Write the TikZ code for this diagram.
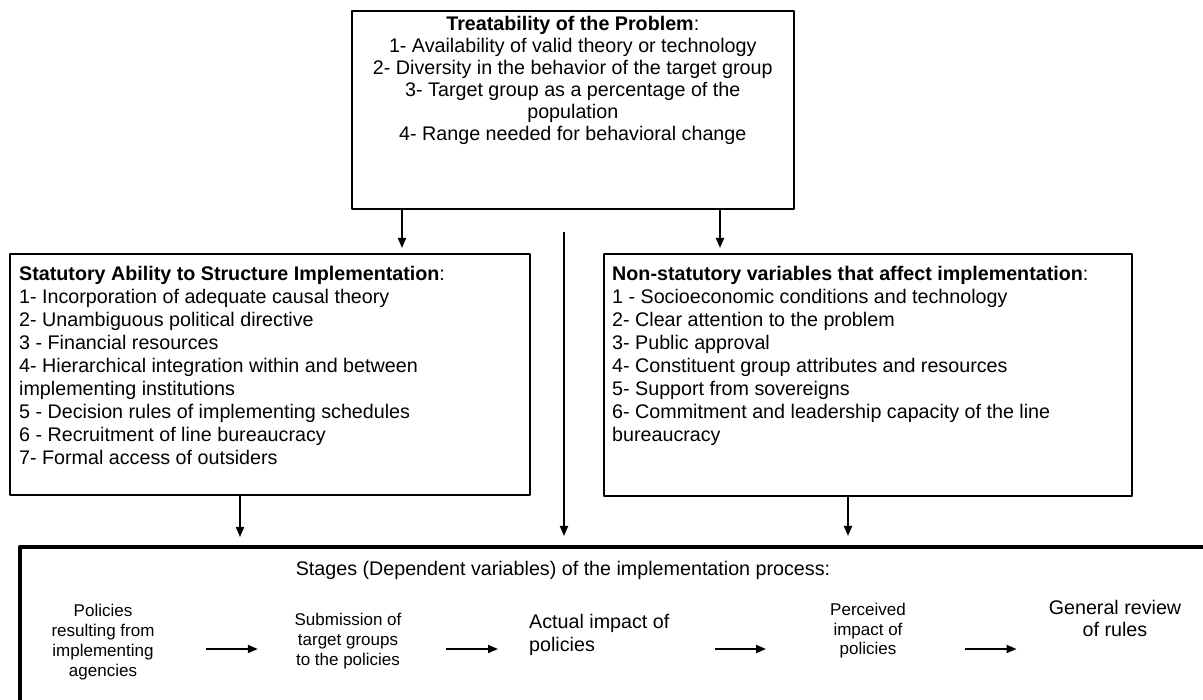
\documentclass[tikz,border=0pt]{standalone}
\usepackage{fontspec}
\setmainfont{Liberation Sans}
\usetikzlibrary{arrows.meta}
\newcommand{\mainsize}{\fontsize{19.7}{23}\selectfont}
\newcommand{\topsize}{\fontsize{19.7}{22}\selectfont}
\newcommand{\smallsize}{\fontsize{17}{20}\selectfont}
\begin{document}
\begin{tikzpicture}[x=1pt, y=-1pt, line join=round, >={Triangle[length=10pt,width=8pt]},
  panel/.style={draw, line width=1.6pt, inner sep=0pt, anchor=north west},
  paneltext/.style={font=\mainsize, align=left, anchor=north west, inner sep=0pt},
  stage/.style={font=\smallsize, align=center, inner sep=3pt},
  bigstage/.style={font=\mainsize, inner sep=3pt},
  arr/.style={->, line width=1.8pt}]
\useasboundingbox (0,0) rectangle (1203,700);
\clip (0,0) rectangle (1203,700);
\node[panel, minimum width=442pt, minimum height=198pt] (treat) at (351,10) {};
\node[font=\topsize, align=center, anchor=north, inner sep=0pt] (treattxt) at ([yshift=-6pt]treat.north) {\textbf{Treatability of the Problem}:\\ 1- Availability of valid theory or technology\\ 2- Diversity in the behavior of the target group\\ 3- Target group as a percentage of the\\ population\\ 4- Range needed for behavioral change};
\node[panel, minimum width=520pt, minimum height=241pt] (statut) at (9,253) {};
\node[paneltext] (statuttxt) at ([xshift=10pt,yshift=-13pt]statut.north west) {\textbf{Statutory Ability to Structure Implementation}:\\ 1- Incorporation of adequate causal theory\\ 2- Unambiguous political directive\\ 3 - Financial resources\\ 4- Hierarchical integration within and between\\ implementing institutions\\ 5 - Decision rules of implementing schedules\\ 6 - Recruitment of line bureaucracy\\ 7- Formal access of outsiders};
\node[panel, minimum width=528pt, minimum height=242pt] (nonstat) at (603,253) {};
\node[paneltext] (nonstattxt) at ([xshift=9pt,yshift=-13pt]nonstat.north west) {\textbf{Non-statutory variables that affect implementation}:\\ 1 - Socioeconomic conditions and technology\\ 2- Clear attention to the problem\\ 3- Public approval\\ 4- Constituent group attributes and resources\\ 5- Support from sovereigns\\ 6- Commitment and leadership capacity of the line\\ bureaucracy};
\node[draw, line width=3.5pt, anchor=north west, minimum width=1300pt, minimum height=300pt] (stages) at (18,545) {};
\node[bigstage] (stagetitle) at (563,570) {Stages (Dependent variables) of the implementation process:};
\node[stage] (policies) at (103,642) {Policies\\ resulting from\\ implementing\\ agencies};
\node[stage] (submission) at (348,641) {Submission of\\ target groups\\ to the policies};
\node[bigstage, align=left, anchor=west] (actual) at (526,635) {Actual impact of\\ policies};
\node[stage, font=\fontsize{17}{19.5}\selectfont] (perceived) at (868,631) {Perceived\\ impact of\\ policies};
\node[bigstage, align=center, font=\topsize] (review) at (1115,618) {General review\\ of rules};
\path (treat.south west) ++(51,0) coordinate (t1) ++(162,0) coordinate (t3) ++(156,0) coordinate (t2);
\path (statut.south west) ++(231,0) coordinate (s1);
\path (nonstat.south west) ++(245,0) coordinate (n1);
\coordinate (flow) at (0,649);
\draw[arr, shorten >=5pt] (t1) -- (t1 |- statut.north);
\draw[arr, shorten >=5pt] (t2) -- (t2 |- nonstat.north);
\draw[arr, shorten <=22pt, shorten >=9pt] (t3) -- (t3 |- stages.north);
\draw[arr, shorten >=8pt] (s1) -- (s1 |- stages.north);
\draw[arr, shorten >=9pt] (n1) -- (n1 |- stages.north);
\draw[arr, shorten <=48.5pt, shorten >=33.6pt] (policies.east |- flow) -- (submission.west |- flow);
\draw[arr, shorten <=41.6pt, shorten >=28pt] (submission.east |- flow) -- (actual.west |- flow);
\draw[arr, shorten <=42pt, shorten >=61pt] (actual.east |- flow) -- (perceived.west |- flow);
\draw[arr, shorten <=56pt, shorten >=29pt] (perceived.east |- flow) -- (review.west |- flow);
\end{tikzpicture}
\end{document}
